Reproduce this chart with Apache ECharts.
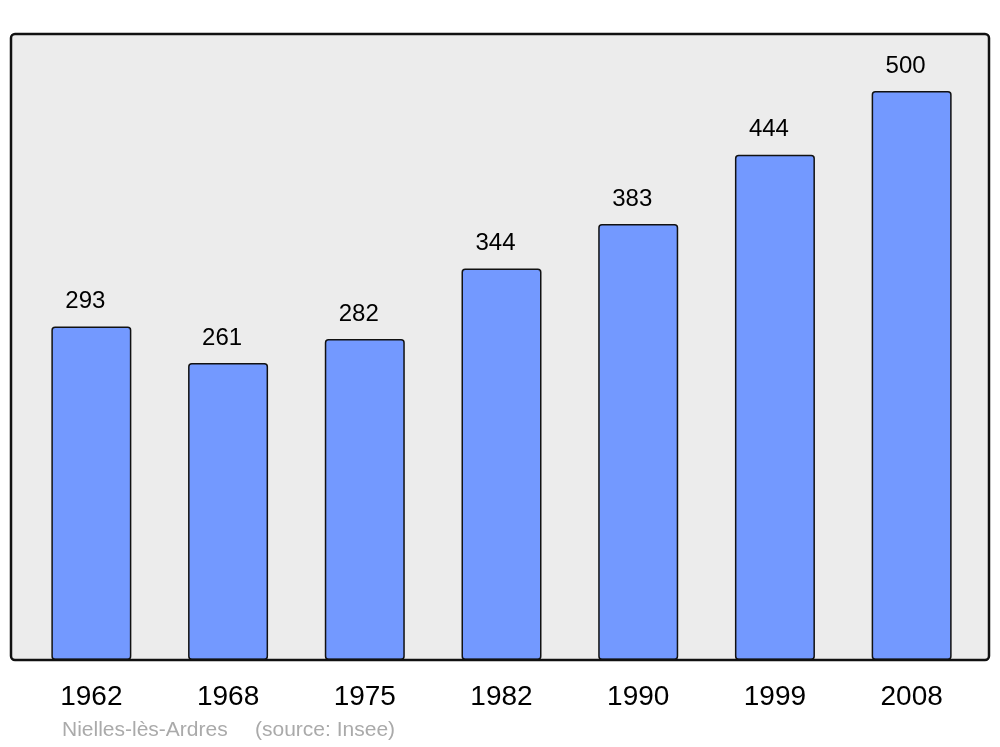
<!DOCTYPE html>
<html>
<head>
<meta charset="utf-8">
<script src="https://cdn.jsdelivr.net/npm/echarts@6/dist/echarts.min.js"></script>
<style>html,body{margin:0;padding:0;background:#fff;}#c{width:1000px;height:747px;}</style>
</head>
<body>
<div id="c"></div>
<script>
const years = ['1962','1968','1975','1982','1990','1999','2008'];
const population = [293, 261, 282, 344, 383, 444, 500];
const footerTitle = 'Nielles-lès-Ardres';
const footerSource = '(source: Insee)';

const chart = echarts.init(document.getElementById('c'), null, {renderer: 'canvas'});
chart.setOption({
  animation: false,
  backgroundColor: '#ffffff',
  grid: {left: 23, right: 20, top: 34, bottom: 87},
  xAxis: {
    type: 'category',
    data: years,
    axisLine: {show: false},
    axisTick: {show: false},
    axisLabel: {color: '#000', fontSize: 28, fontFamily: 'Liberation Sans', margin: 23}
  },
  yAxis: {
    type: 'value',
    min: 0,
    max: 550,
    show: false,
    splitLine: {show: false}
  },
  graphic: [
    {
      type: 'rect',
      shape: {x: 11, y: 34, width: 978, height: 626, r: 4},
      style: {fill: '#ececec', stroke: 'none'},
      z: -10, silent: true
    },
    {
      type: 'rect',
      shape: {x: 11, y: 34, width: 978, height: 626, r: 4},
      style: {fill: 'none', stroke: '#111', lineWidth: 2.5},
      z: 100, silent: true
    },
    {
      type: 'text',
      left: 62, top: 720,
      style: {text: footerTitle, fill: '#aaaaaa', fontSize: 21, fontFamily: 'Liberation Sans'}
    },
    {
      type: 'text',
      left: 255, top: 720,
      style: {text: footerSource, fill: '#aaaaaa', fontSize: 21, fontFamily: 'Liberation Sans'}
    }
  ],
  series: [{
    type: 'bar',
    data: population,
    barWidth: 80,
    itemStyle: {color: '#7399ff', borderColor: '#111', borderWidth: 1.5, borderRadius: 3},
    label: {
      show: true, position: 'top', distance: 13, offset: [-6, 0],
      color: '#000', fontSize: 24, fontFamily: 'Liberation Sans'
    }
  }]
});
</script>
</body>
</html>
